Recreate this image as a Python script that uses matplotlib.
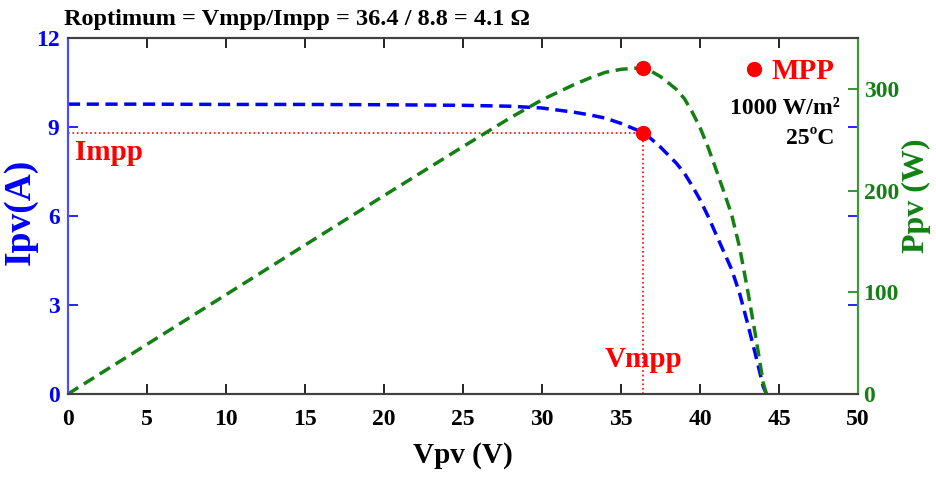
import matplotlib
matplotlib.use("Agg")
import matplotlib.pyplot as plt
from matplotlib.lines import Line2D

plt.rcParams["font.family"] = ["Liberation Serif", "DejaVu Serif"]
plt.rcParams["font.weight"] = "bold"
plt.rcParams["axes.labelweight"] = "bold"

# PV curve (1000 W/m2, 25 C)
vpv = [0, 5, 10, 15, 20, 25, 28, 30, 32, 33, 34, 35, 36, 36.4, 36.8, 37.5, 38, 38.5,
       39, 39.5, 40, 40.5, 41, 41.5, 42, 42.5, 43, 43.5, 44, 44.2]
ipv = [9.77, 9.77, 9.76, 9.76, 9.75, 9.73, 9.7, 9.64, 9.5, 9.41, 9.3, 9.12, 8.9, 8.8,
       8.65, 8.32, 8.05, 7.78, 7.45, 7.02, 6.55, 6.0, 5.4, 4.8, 4.2, 3.4, 2.4, 1.35, 0.25, 0]
ppv = [0, 48.8, 97.6, 146.4, 195, 243.2, 271.6, 289.2, 304, 310.5, 316.2, 319.2, 320.4,
       320.3, 318.3, 312, 305.9, 299.5, 290.6, 277.3, 262, 243, 221.4, 199.2, 176.4,
       144.5, 103.2, 58.7, 11, 0]
vmpp = 36.4
impp = 8.8
pmpp = 320.3

blue = "#0000ff"
green = "#148014"
red = "#ff0000"

fig = plt.figure(figsize=(9.36, 4.84), dpi=100)
ax1 = fig.add_axes([0.0726, 0.186, 0.8441, 0.7355])
ax2 = ax1.twinx()

# reference lines to the MPP
ax1.plot([0, vmpp], [impp, impp], ls=":", lw=1.2, color=red)
ax1.plot([vmpp, vmpp], [0, impp], ls=":", lw=1.2, color=red)

ax1.plot(vpv, ipv, color=blue, lw=2.5, dashes=(3.5, 1.9))
ax1.plot([vmpp], [impp], "o", color=red, ms=10, zorder=5)
ax2.plot(vpv, ppv, color=green, lw=2.5, dashes=(3.5, 1.9))
ax2.plot([vmpp], [pmpp], "o", color=red, ms=10, zorder=5)

ax1.set_xlim(0, 50)
ax1.set_ylim(0, 12)
ax2.set_ylim(0, 350)
ax1.set_xticks(range(0, 51, 5))
ax1.set_yticks([0, 3, 6, 9, 12])
ax2.set_yticks([0, 100, 200, 300])

ax1.tick_params(axis="x", direction="in", length=7, width=1.2, top=True,
                labelsize=17, colors="black", pad=11)
ax1.tick_params(axis="y", direction="in", length=7, width=1.2, right=True,
                labelsize=17, colors=blue, pad=6)
ax2.tick_params(axis="y", direction="in", length=7, width=1.2,
                labelsize=17, colors=green, pad=4)

for ax in (ax1, ax2):
    ax.spines["left"].set_color("#4d4dff")
    ax.spines["right"].set_color("#3a9a3a")
    ax.spines["top"].set_color("#404040")
    ax.spines["bottom"].set_color("#404040")
    for s in ax.spines.values():
        s.set_linewidth(1.5)

ax1.set_xlabel("Vpv (V)", fontsize=21)
ax1.xaxis.set_label_coords(0.5, -0.135)
ax1.set_ylabel("Ipv(A)", fontsize=27, color=blue)
ax1.yaxis.set_label_coords(-0.038, 0.511)
ax2.set_ylabel("Ppv (W)", fontsize=23, color=green)
ax2.yaxis.set_label_coords(1.056, 0.556)

ax1.text(0.44, 8.15, "Impp", color=red, fontsize=21, va="center", ha="left")
ax1.text(vmpp, 1.15, "Vmpp", color=red, fontsize=21, va="center", ha="center")

legend_elements = [Line2D([0], [0], ls="none", marker="o", ms=10, color=red, label="MPP")]
leg = ax2.legend(handles=legend_elements, loc="center right", bbox_to_anchor=(0.97, 0.905),
                 frameon=False, fontsize=21, labelcolor=red, handlelength=0.8,
                 handletextpad=0.2, borderpad=0, borderaxespad=0)
ax2.text(0.977, 0.803, "1000 W/m²", transform=ax2.transAxes, fontsize=17,
         ha="right", va="center")
ax2.text(0.97, 0.719, "25ºC", transform=ax2.transAxes, fontsize=17,
         ha="right", va="center")

fig.text(0.068, 0.959, "Roptimum = Vmpp/Impp = 36.4 / 8.8 = 4.1 Ω", fontsize=17.5,
         ha="left", va="center")

fig.savefig("out.png", dpi=100)
